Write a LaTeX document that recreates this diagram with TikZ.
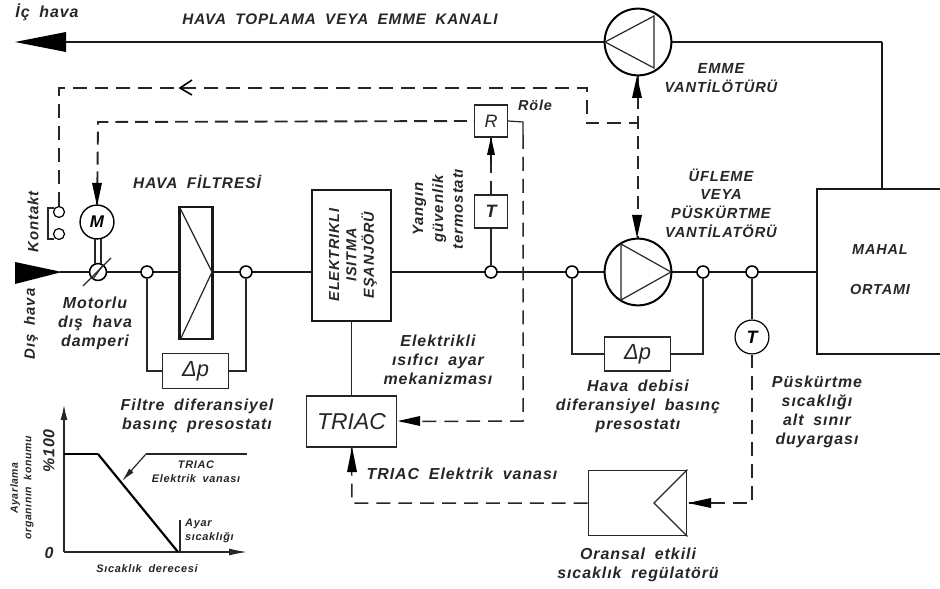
\documentclass[tikz,border=0pt]{standalone}
\usepackage{fontspec}
\setmainfont{Liberation Sans}
\usetikzlibrary{arrows.meta}
\newfontfamily\lblfont[LetterSpace=6,WordSpace=1.8]{Liberation Sans}
\tikzset{
  main/.style={line width=1.8pt,black!90},
  thin line/.style={line width=1.2pt,black!85},
  thick box/.style={draw,line width=2.2pt,black!90,inner sep=0pt},
  boxn/.style={draw,line width=1.2pt,black!85,inner sep=0pt},
  junction/.style={circle,draw,line width=1.6pt,fill=white,minimum size=12pt,inner sep=0pt},
  fan/.style={circle,draw,line width=2pt,minimum size=67pt,inner sep=0pt,fill=white},
  sensor/.style={circle,draw,line width=1.2pt,minimum size=34pt,inner sep=0pt,fill=white},
  ctl/.style={line width=1.5pt,dash pattern=on 14pt off 8pt,black!85},
  ctlh/.style={line width=1.9pt,dash pattern=on 13pt off 7pt,black!85},
  lbl/.style={font=\lblfont\itshape\bfseries\fontsize{#1}{#1}\selectfont,align=center,inner sep=0pt,text=black!85},
  lbl/.default=16,
}
\begin{document}
\begin{tikzpicture}[x=1bp,y=-1bp,line cap=butt]
\useasboundingbox (0,0) rectangle (940,589);
% return duct
\node[fan] (fanE) at (638,42) {};
\coordinate (ret) at (63,42);
\coordinate (retC) at (882,42);
\draw[main] (fanE) -- (ret);
\draw[main] (fanE) -- (retC);
\fill[black] (15,42) -- (66,32) -- (66,52) -- cycle;
\draw[thin line] (605,42) -- (654,16) -- (654,68) -- cycle;
% room
\coordinate (roomT) at (882,189);
\draw[main,line width=2pt] (retC) -- (roomT);
\draw[line width=1.8pt,black!90] (940,189) -- (817,189) -- (817,354) -- (940,354);
% main line
\coordinate (inlet) at (60,272);
\coordinate (roomIn) at (817,272);
\draw[main] (inlet) -- (roomIn);
\fill[black] (15,262) -- (62,272) -- (15,284) -- cycle;
% filter
\node[thick box,fill=white,minimum width=33pt,minimum height=132pt] (filter) at (196,273) {};
\draw[thin line] (180,208) -- (212,272) -- (181,338);
% heater
\node[thick box,fill=white,minimum width=80pt,minimum height=132pt] (heater) at (351.5,255.5) {};
\node[lbl=14.5,rotate=90] (heatT) at (353,255) {ELEKTRIKLI\\[3pt]ISITMA\\[3pt]EŞANJÖRÜ};
% fan 2
\node[fan] (fanP) at (638,272) {};
\draw[thin line] (621,244) -- (671,272) -- (621,300) -- cycle;
% junctions
\node[junction] (j1) at (147,272) {};
\node[junction] (j2) at (246,272) {};
\node[junction] (j3) at (491,272) {};
\node[junction] (j4) at (572,272) {};
\node[junction] (j5) at (703,272) {};
\node[junction] (j6) at (752,272) {};
% damper and motor
\node[circle,draw,line width=1.6pt,fill=white,minimum size=17pt,inner sep=0pt] (damper) at (98,272) {};
\draw[thin line] (83,286) -- (111,258);
\draw[thin line] (93,279) -- (103,265);
\node[sensor,line width=1.4pt] (motor) at (97,222) {\lblfont\itshape\bfseries\fontsize{17}{17}\selectfont M};
\draw[thin line] (95,239) -- (95,264) (101,239) -- (101,264);
% contact
\node[circle,draw,line width=1.2pt,minimum size=11pt,inner sep=0pt] (c1) at (59,212) {};
\node[circle,draw,line width=1.2pt,minimum size=11pt,inner sep=0pt] (c2) at (59,234) {};
\draw[thin line] (54,208) -- (48,208) -- (48,239) -- (54,239);
% dp boxes
\node[boxn,minimum width=67pt,minimum height=35pt] (dp1) at (195.5,371) {\itshape\fontsize{22}{22}\selectfont Δp};
\node[boxn,minimum width=67pt,minimum height=34pt] (dp2) at (637.5,354) {\itshape\fontsize{22}{22}\selectfont Δp};
\draw[thin line] (j1) |- (dp1);
\draw[thin line] (j2) |- (dp1);
\draw[thin line] (j4) |- (dp2);
\draw[thin line] (j5) |- (dp2);
% TRIAC
\node[boxn,minimum width=91pt,minimum height=51pt] (triac) at (351.5,421.5) {\itshape\fontsize{23}{23}\selectfont TRIAC};
\draw[thin line] (heater.south -| triac.north) -- (triac.north);
% R, T
\node[boxn,minimum width=33pt,minimum height=32pt] (R) at (491,121) {\itshape\fontsize{18}{18}\selectfont R};
\node[boxn,minimum width=33pt,minimum height=33pt] (T) at (491,211.5) {\itshape\bfseries\fontsize{18}{18}\selectfont T};
\draw[thin line] (T) -- (j3);
\draw[ctl] (T) -- (R);
\draw[main] (491,162) -- (491,145);
\fill[black] (491,137) -- (495,155) -- (487,155) -- cycle;
% sensor T
\node[sensor] (sT) at (752,337) {\itshape\bfseries\fontsize{18}{18}\selectfont T};
\draw[thin line] (j6) -- (sT);
% regulator
\node[boxn,minimum width=99pt,minimum height=66pt] (reg) at (637.5,503) {};
\draw[thin line] (reg.north east) -- (654,503) -- (reg.south east);
% control lines
\coordinate (a1) at (59,88);
\coordinate (a2) at (587,88);
\coordinate (a3) at (587,123);
\coordinate (a4) at (637,123);
\draw[ctl] (c1) -- (a1) -- (a2) -- (a3) -- (a4);
\draw[line width=1.6pt] (192,80) -- (180,88) -- (192,95);
\coordinate (b1) at (98,122);
\draw[ctlh] (motor) -- (b1) -- (R.west);
\fill[black] (97,206) -- (92,183) -- (102,183) -- cycle;
\coordinate (r1) at (523,122);
\coordinate (r2) at (523,421);
\draw[thin line] (R.east) -- (r1) -- (523,135);
\draw[ctl] (523,135) -- (r2) -- (triac.east);
\fill[black] (398,421) -- (420,416) -- (420,426) -- cycle;
\draw[ctlh] (fanE) -- (fanP);
\fill[black] (637,76) -- (632,98) -- (642,98) -- cycle;
\fill[black] (637,238) -- (632,215) -- (642,215) -- cycle;
\coordinate (s1) at (752,503);
\draw[ctl] (sT) -- (s1) -- (reg.east);
\fill[black] (688,503) -- (711,498) -- (711,508) -- cycle;
\coordinate (t1) at (352,503);
\draw[ctl] (reg.west) -- (t1) -- (triac.south);
\fill[black] (352,447) -- (347,472) -- (357,472) -- cycle;
% graph
\coordinate (ox) at (64,552);
\draw[thin line,-{Latex[length=15pt,width=7pt]}] (ox) -- (64,405);
\draw[thin line,-{Latex[length=18pt,width=7pt]}] (ox) -- (247,552);
\draw[line width=1.3pt] (64,454) -- (98,454);
\draw[line width=2.2pt] (98,454) -- (178,552);
\draw[thin line] (146,454) -- (247,454);
\draw[thin line,-{Latex[length=14pt,width=6pt]}] (146,454) -- (122,481);
\draw[thin line] (180,520) -- (180,552);
% labels
\node[lbl=16] (tic) at (47,12) {İç hava};
\node[lbl=15.3] (t1a) at (340,19) {HAVA TOPLAMA VEYA EMME KANALI};
\node[lbl=15.5] (t2) at (197,182) {HAVA FİLTRESİ};
\node[lbl=15,rotate=90] (t3) at (33,222) {Kontakt};
\node[lbl=15,rotate=90] (t4) at (31,324) {Dış hava};
\node[lbl=16] (t5) at (95,323) {Motorlu\\[3pt]dış hava\\[3pt]damperi};
\node[lbl=15,rotate=90] (t6) at (438,209) {Yangın\\[5pt]güvenlik\\[5pt]termostatı};
\node[lbl=14.5] (t7) at (535,105) {Röle};
\node[lbl=14.7] (t8) at (721,78) {EMME\\[4pt]VANTİLÖTÜRÜ};
\node[lbl=14.7] (t9) at (721,203) {ÜFLEME\\[4pt]VEYA\\[4pt]PÜSKÜRTME\\[4pt]VANTİLATÖRÜ};
\node[lbl=14.5] (t10) at (880,250) {MAHAL};
\node[lbl=14.5] (t11) at (880,290) {ORTAMI};
\node[lbl=16] (t12) at (438,360) {Elektrikli\\[3pt]ısıfıcı ayar\\[3pt]mekanizması};
\node[lbl=16] (t13) at (197,416) {Filtre diferansiyel\\[3pt]basınç presostatı};
\node[lbl=16] (t14) at (638,406) {Hava debisi\\[3pt]diferansiyel basınç\\[3pt]presostatı};
\node[lbl=16] (t15) at (817,412) {Püskürtme\\[3pt]sıcaklığı\\[3pt]alt sınır\\[3pt]duyargası};
\node[lbl=16] (t16) at (462,474) {TRIAC Elektrik vanası};
\node[lbl=16] (t17) at (638,565) {Oransal etkili\\[3pt]sıcaklık regülatörü};
\node[lbl=11] (t18) at (196,472) {TRIAC\\[3pt]Elektrik vanası};
\node[lbl=11,align=left,anchor=west] (t19) at (185,531) {Ayar\\[3pt]sıcaklığı};
\node[lbl=11] (t20) at (147,569) {Sıcaklık derecesi};
\node[lbl=10.5,rotate=90] (t21) at (22,488) {Ayarlama\\[3pt]organının konumu};
\node[lbl=16,rotate=90] (t22) at (49,451) {\%100};
\node[lbl=16] (t23) at (49,553) {0};
\end{tikzpicture}
\end{document}
